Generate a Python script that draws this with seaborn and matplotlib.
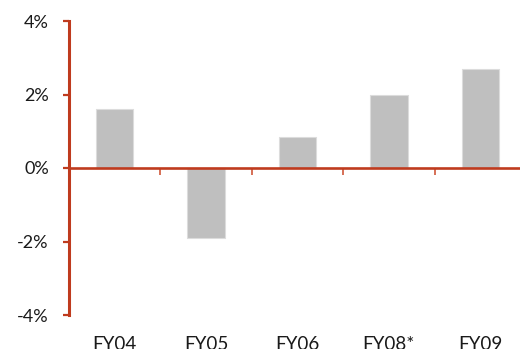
import matplotlib
matplotlib.use("Agg")
import matplotlib.pyplot as plt
import seaborn as sns
import pandas as pd
from matplotlib.ticker import FixedLocator, NullFormatter

years = ["FY04", "FY05", "FY06", "FY08*", "FY09"]
growth = [1.6, -1.9, 0.85, 2.0, 2.7]
y_ticks = [-4, -2, 0, 2, 4]
y_tick_labels = ["-4%", "-2%", "0%", "2%", "4%"]

df = pd.DataFrame({"year": years, "growth": growth})

sns.set_style("white")
plt.rcParams["font.family"] = ["Lato", "DejaVu Sans"]

axis_red = "#BF3B1E"

fig = plt.figure(figsize=(5.2, 3.49), dpi=100)
ax = fig.add_axes([69 / 520, 34 / 349, 457 / 520, 294 / 349])

sns.barplot(data=df, x="year", y="growth", color="#BFBFBF", width=0.41,
            edgecolor="#DCDCDC", linewidth=0.8, saturation=1, ax=ax)

ax.set_xlim(-0.5, len(years) - 0.5)
ax.set_ylim(-4, 4)
ax.set_xlabel("")
ax.set_ylabel("")

# y axis with percent labels
ax.set_yticks(y_ticks)
ax.set_yticklabels(y_tick_labels, fontsize=13, color="#1a1a1a")
ax.tick_params(axis="y", direction="out", length=4.5, width=1.6,
               color=axis_red, pad=10, left=True)

# zero line carries boundary ticks between categories
for side in ("top", "right"):
    ax.spines[side].set_visible(False)
ax.spines["left"].set_color(axis_red)
ax.spines["left"].set_linewidth(2.2)
ax.spines["bottom"].set_position(("data", 0))
ax.spines["bottom"].set_color(axis_red)
ax.spines["bottom"].set_linewidth(1.9)
ax.spines["bottom"].set_zorder(3)

ax.xaxis.set_major_locator(FixedLocator([i + 0.5 for i in range(len(years))]))
ax.xaxis.set_major_formatter(NullFormatter())
ax.tick_params(axis="x", direction="out", length=5, width=1.2,
               color="#D0573A", bottom=True)

# category labels along the bottom of the plot area
sec = ax.secondary_xaxis(0.0)
sec.set_xticks(range(len(years)))
sec.set_xticklabels(years, fontsize=13.5, color="#1a1a1a")
sec.tick_params(axis="x", length=0, pad=15)
sec.spines["bottom"].set_visible(False)

ax.grid(False)
fig.savefig("out.png", dpi=100)
